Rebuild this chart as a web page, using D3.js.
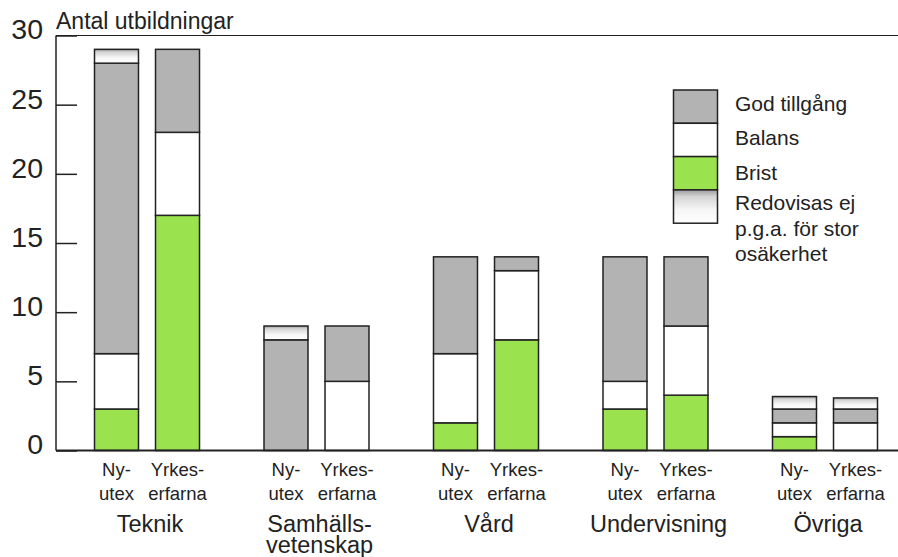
<!DOCTYPE html>
<html>
<head>
<meta charset="utf-8">
<script src="https://cdn.jsdelivr.net/npm/d3@7"></script>
<style>
  body { margin: 0; background: #fff; }
  svg { display: block; }
  text { fill: #222; font-family: "Liberation Sans", Arial, Helvetica, sans-serif; }
</style>
</head>
<body>
<div id="chart"></div>
<script>
// categories and the two bars in each
const categories = ["Teknik", "Samhälls-\nvetenskap", "Vård", "Undervisning", "Övriga"];
const barTypes = ["Nyutex", "Yrkes"];
const barLabels = { Nyutex: ["Ny-", "utex"], Yrkes: ["Yrkes-", "erfarna"] };

// values per bar: Teknik Ny, Teknik Yrkes, Samh Ny, Samh Yrkes, ...
const brist     = [3, 17, 0, 0, 2, 8, 3, 4, 1, 0];
const balans    = [4, 6, 0, 5, 5, 5, 2, 5, 1, 2];
const god       = [21, 6, 8, 4, 7, 1, 9, 5, 1, 1];
const redovisas = [1, 0, 1, 0, 0, 0, 0, 0, 0.9, 0.8];

const yTicks = [0, 5, 10, 15, 20, 25, 30];
const keys = ["brist", "balans", "god", "redovisas"];
const legendLabels = {
  god: ["God tillgång"],
  balans: ["Balans"],
  brist: ["Brist"],
  redovisas: ["Redovisas ej", "p.g.a. för stor", "osäkerhet"]
};

const width = 898, height = 557;
const margin = { top: 35.5, left: 56, bottom: 106.5 };

const svg = d3.select("#chart").append("svg")
  .attr("width", width)
  .attr("height", height);

const defs = svg.append("defs");
const grad = defs.append("linearGradient")
  .attr("id", "redGrad")
  .attr("x1", 0).attr("y1", 0).attr("x2", 0).attr("y2", 1);
grad.append("stop").attr("offset", "0%").attr("stop-color", "#9c9c9c");
grad.append("stop").attr("offset", "20%").attr("stop-color", "#d4d4d4");
grad.append("stop").attr("offset", "60%").attr("stop-color", "#f6f6f6");
grad.append("stop").attr("offset", "100%").attr("stop-color", "#ffffff");

const colors = { brist: "#9ae24e", balans: "#ffffff", god: "#b3b3b3", redovisas: "url(#redGrad)" };

// table for stacking
const table = [];
categories.forEach((c, i) => {
  barTypes.forEach((t, j) => {
    const k = i * 2 + j;
    table.push({ cat: c, type: t, brist: brist[k], balans: balans[k], god: god[k], redovisas: redovisas[k] });
  });
});

const y = d3.scaleLinear().domain([0, 30]).range([height - margin.bottom, margin.top]);
const x0 = d3.scaleBand().domain(categories).range([62.25, 909.75]);
const x1 = d3.scaleBand().domain(barTypes).range([0, 105]).paddingInner(0.279);
const groupStart = c => x0(c) + x0.bandwidth() / 2 - 52.5;

// frame lines
svg.append("line")
  .attr("x1", margin.left).attr("x2", width)
  .attr("y1", y(30)).attr("y2", y(30))
  .attr("stroke", "#222").attr("stroke-width", 1.2);

// y axis with inward ticks
const yAxis = svg.append("g")
  .attr("transform", "translate(" + margin.left + ",0)")
  .call(d3.axisLeft(y).tickValues(yTicks).tickSize(-21).tickPadding(13));
yAxis.attr("font-family", null);
yAxis.select(".domain").remove();
yAxis.selectAll(".tick line").attr("stroke", "#222").attr("stroke-width", 1.5);
yAxis.selectAll(".tick text")
  .attr("dy", "0.12em")
  .style("font-size", "28.5px")
  .attr("fill", "#222");

svg.append("line")
  .attr("x1", margin.left).attr("x2", margin.left)
  .attr("y1", y(30)).attr("y2", y(0))
  .attr("stroke", "#222").attr("stroke-width", 1.5);

svg.append("text")
  .attr("x", 56).attr("y", 28.5)
  .style("font-size", "23px")
  .text("Antal utbildningar");

// stacked bars
const stack = d3.stack().keys(keys);
const series = stack(table);

svg.append("g")
  .selectAll("g")
  .data(series)
  .enter().append("g")
  .attr("fill", d => colors[d.key])
  .selectAll("rect")
  .data(d => d.filter(s => s[1] - s[0] > 0))
  .enter().append("rect")
  .attr("x", d => groupStart(d.data.cat) + x1(d.data.type))
  .attr("width", x1.bandwidth())
  .attr("y", d => y(d[1]))
  .attr("height", d => y(d[0]) - y(d[1]))
  .attr("stroke", "#222")
  .attr("stroke-width", 1.5);

// bottom axis line
svg.append("line")
  .attr("x1", margin.left).attr("x2", width)
  .attr("y1", y(0)).attr("y2", y(0))
  .attr("stroke", "#222").attr("stroke-width", 2);

// bar labels
table.forEach(d => {
  const cx = groupStart(d.cat) + x1(d.type) + x1.bandwidth() / 2;
  barLabels[d.type].forEach((line, i) => {
    svg.append("text")
      .attr("x", cx).attr("y", 476 + i * 23.5)
      .attr("text-anchor", "middle")
      .style("font-size", "18.5px")
      .text(line);
  });
});

// category labels
categories.forEach(c => {
  const cx = x0(c) + x0.bandwidth() / 2 + 3;
  c.split("\n").forEach((line, i) => {
    svg.append("text")
      .attr("x", cx).attr("y", 531.5 + i * 21.5)
      .attr("text-anchor", "middle")
      .style("font-size", "23.5px")
      .text(line);
  });
});

// legend
const legendOrder = ["god", "balans", "brist", "redovisas"];
const lg = svg.append("g");
legendOrder.forEach((k, i) => {
  lg.append("rect")
    .attr("x", 673.5).attr("y", 90 + i * 33.3)
    .attr("width", 44).attr("height", 33.3)
    .attr("fill", colors[k])
    .attr("stroke", "#222").attr("stroke-width", 1.5);
});
const legendBaselines = { god: [110.5], balans: [145], brist: [180], redovisas: [210, 235.5, 261] };
legendOrder.forEach(k => {
  legendLabels[k].forEach((line, i) => {
    lg.append("text")
      .attr("x", 735).attr("y", legendBaselines[k][i])
      .style("font-size", "21px")
      .text(line);
  });
});
</script>
</body>
</html>
